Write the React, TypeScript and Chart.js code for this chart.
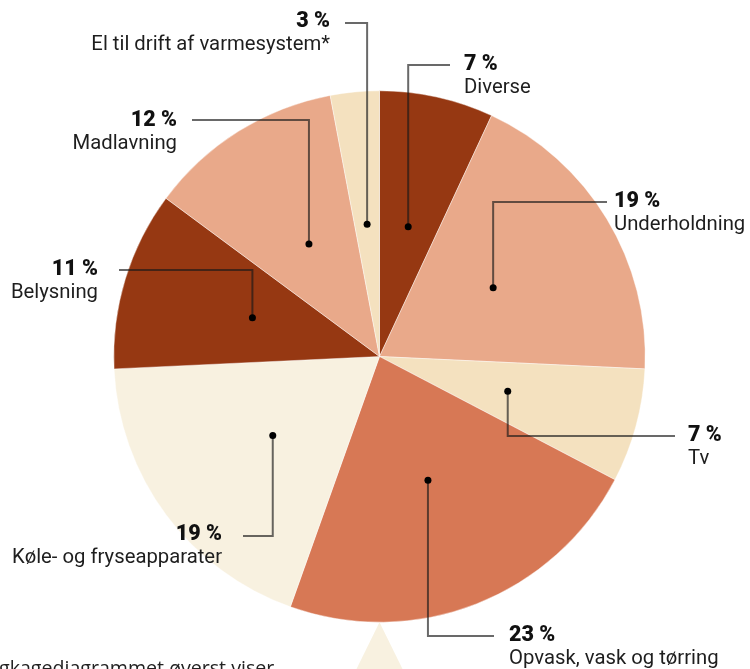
import React, { useEffect, useRef } from "react";
import { Chart, registerables } from "chart.js";

Chart.register(...registerables);

const categories = [
  "Diverse",
  "Underholdning",
  "Tv",
  "Opvask, vask og tørring",
  "Køle- og fryseapparater",
  "Belysning",
  "Madlavning",
  "El til drift af varmesystem*",
];
const shares = [7, 19, 7, 23, 19, 11, 12, 3];
const sliceColors = [
  "#963812",
  "#E9A98A",
  "#F4E1BF",
  "#D77855",
  "#F8F1E0",
  "#963812",
  "#E9A98A",
  "#F4E1BF",
];
const footnote = "Lagkagediagrammet øverst viser";

// label layout (positions only)
const labelLayout = [
  { align: "left", x: 464, y: 70, lineY: 65, lineEnd: 450 },
  { align: "left", x: 614, y: 207, lineY: 202, lineEnd: 607 },
  { align: "left", x: 688, y: 441, lineY: 436, lineEnd: 675 },
  { align: "left", x: 509, y: 641, lineY: 636, lineEnd: 494 },
  { align: "right", x: 222, y: 540, lineY: 536, lineEnd: 243 },
  { align: "right", x: 98, y: 275, lineY: 270, lineEnd: 119 },
  { align: "right", x: 177, y: 126, lineY: 120, lineEnd: 192 },
  { align: "right", x: 330, y: 27, lineY: 23, lineEnd: 345 },
];

const calloutPlugin = {
  id: "callouts",
  afterDraw(chart: any) {
    const ctx = chart.ctx;
    const meta = chart.getDatasetMeta(0);
    ctx.save();
    // pointer triangle below pie
    const a0 = meta.data[0] as any;
    if (a0) {
      const cx = a0.x;
      const bottom = a0.y + a0.outerRadius;
      ctx.fillStyle = "#F8F1E0";
      ctx.beginPath();
      ctx.moveTo(cx, bottom);
      ctx.lineTo(cx - 23, chart.height);
      ctx.lineTo(cx + 23, chart.height);
      ctx.closePath();
      ctx.fill();
    }
    meta.data.forEach((arc: any, i: number) => {
      const p = arc.tooltipPosition();
      const L = labelLayout[i];
      ctx.strokeStyle = "rgba(25,25,25,0.65)";
      ctx.lineWidth = 2;
      ctx.beginPath();
      ctx.moveTo(p.x, p.y);
      ctx.lineTo(p.x, L.lineY);
      ctx.lineTo(L.lineEnd, L.lineY);
      ctx.stroke();
      ctx.fillStyle = "#000";
      ctx.beginPath();
      ctx.arc(p.x, p.y, 3.5, 0, Math.PI * 2);
      ctx.fill();
      ctx.textAlign = L.align;
      ctx.textBaseline = "alphabetic";
      ctx.fillStyle = "#111";
      ctx.font = "900 21.5px Roboto";
      ctx.fillText(`${shares[i]} %`, L.x, L.y);
      ctx.fillStyle = "#1e1e1e";
      ctx.font = "20.3px Roboto";
      ctx.fillText(categories[i], L.x, L.y + 23);
    });
    // cut-off footnote text
    ctx.font = "19.6px 'Open Sans'";
    ctx.fillStyle = "#222";
    ctx.textAlign = "left";
    const off = ctx.measureText("La").width;
    ctx.fillText(footnote, -off - 1, 675);
    ctx.restore();
  },
};

export default function App() {
  const ref = useRef<HTMLCanvasElement>(null);
  useEffect(() => {
    if (!ref.current) return;
    const chart = new Chart(ref.current, {
      type: "pie",
      data: {
        labels: categories,
        datasets: [
          {
            data: shares,
            backgroundColor: sliceColors,
            borderColor: "rgba(255,255,255,0.7)",
            borderWidth: 0.6,
          },
        ],
      },
      options: {
        responsive: false,
        animation: false,
        layout: { padding: { left: 113.5, right: 104.5, top: 90.5, bottom: 46.5 } },
        plugins: {
          legend: { display: false },
          tooltip: { enabled: false },
        },
      },
      plugins: [calloutPlugin],
    });
    return () => chart.destroy();
  }, []);
  return (
    <div style={{ position: "fixed", left: 0, top: 0, width: 750, height: 669, background: "#fff" }}>
      <canvas ref={ref} width={750} height={669} style={{ width: 750, height: 669, display: "block" }} />
    </div>
  );
}
